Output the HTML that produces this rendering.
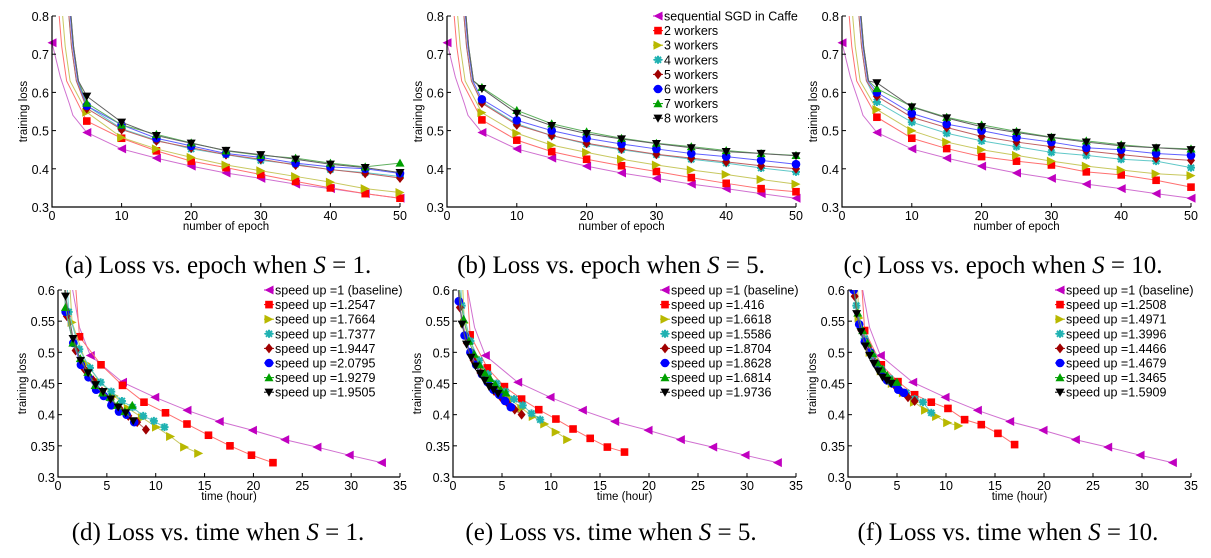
<!DOCTYPE html>
<html><head><meta charset="utf-8"><style>
body{margin:0;background:#fff;}
svg{display:block;font-family:"Liberation Sans",sans-serif;}
.cap{font-family:"Liberation Serif",serif;font-size:25px;fill:#000;}
</style></head><body>
<svg id="fig" width="1211" height="558" viewBox="0 0 1211 558"></svg>
<script>
// ---- data ----
const epochs=[5,10,15,20,25,30,35,40,45,50];
const baseLoss=[0.495,0.452,0.428,0.407,0.389,0.375,0.36,0.348,0.335,0.323];
const baseTime=[3.3,6.6,9.9,13.2,16.5,19.9,23.2,26.5,29.8,33.1];
const lossA=[
[0.525,0.48,0.447,0.42,0.403,0.385,0.367,0.35,0.335,0.323],
[0.548,0.482,0.452,0.43,0.41,0.395,0.38,0.365,0.348,0.338],
[0.565,0.505,0.475,0.452,0.437,0.422,0.412,0.398,0.39,0.38],
[0.558,0.503,0.473,0.455,0.437,0.425,0.41,0.398,0.388,0.376],
[0.565,0.515,0.48,0.46,0.44,0.43,0.415,0.405,0.4,0.388],
[0.572,0.515,0.49,0.468,0.447,0.435,0.428,0.415,0.405,0.415],
[0.59,0.522,0.487,0.467,0.448,0.437,0.425,0.412,0.403,0.39]];
const lossB=[
[0.528,0.475,0.445,0.425,0.408,0.393,0.377,0.362,0.348,0.34],
[0.547,0.493,0.462,0.443,0.425,0.41,0.397,0.385,0.372,0.36],
[0.575,0.518,0.487,0.465,0.45,0.437,0.425,0.415,0.402,0.392],
[0.572,0.515,0.487,0.467,0.452,0.438,0.428,0.418,0.408,0.4],
[0.582,0.527,0.5,0.48,0.465,0.452,0.44,0.432,0.422,0.412],
[0.613,0.553,0.518,0.497,0.48,0.467,0.458,0.448,0.44,0.435],
[0.61,0.545,0.513,0.492,0.478,0.466,0.455,0.445,0.44,0.434]];
const lossC=[
[0.535,0.48,0.453,0.432,0.42,0.41,0.392,0.384,0.37,0.352],
[0.555,0.5,0.47,0.45,0.435,0.42,0.407,0.397,0.387,0.382],
[0.575,0.522,0.493,0.473,0.458,0.443,0.435,0.425,0.42,0.403],
[0.59,0.535,0.508,0.485,0.47,0.458,0.447,0.437,0.428,0.422],
[0.6,0.545,0.517,0.5,0.482,0.47,0.455,0.45,0.44,0.435],
[0.61,0.563,0.535,0.515,0.498,0.483,0.473,0.463,0.455,0.452],
[0.625,0.562,0.533,0.51,0.495,0.482,0.47,0.46,0.455,0.45]];
const timeD=[
[2.2,4.4,6.6,8.8,11,13.2,15.4,17.6,19.8,22],
[1.44,2.88,4.32,5.76,7.2,8.64,10.08,11.52,12.96,14.4],
[1.09,2.18,3.27,4.36,5.45,6.54,7.63,8.72,9.81,10.9],
[0.9,1.8,2.7,3.6,4.5,5.4,6.3,7.2,8.1,9],
[0.78,1.56,2.34,3.12,3.9,4.68,5.46,6.24,7.02,7.8],
[0.76,1.52,2.28,3.04,3.8,4.56,5.32,6.08,6.84,7.6],
[0.77,1.54,2.31,3.08,3.85,4.62,5.39,6.16,6.93,7.7]];
const timeE=[
[1.75,3.5,5.25,7,8.75,10.5,12.25,14,15.75,17.5],
[1.17,2.34,3.51,4.68,5.85,7.02,8.19,9.36,10.53,11.7],
[0.89,1.78,2.67,3.56,4.45,5.34,6.23,7.12,8.01,8.9],
[0.7,1.4,2.1,2.8,3.5,4.2,4.9,5.6,6.3,7],
[0.59,1.18,1.77,2.36,2.95,3.54,4.13,4.72,5.31,5.9],
[0.54,1.08,1.62,2.16,2.7,3.24,3.78,4.32,4.86,5.4],
[0.46,0.92,1.38,1.84,2.3,2.76,3.22,3.68,4.14,4.6]];
const timeF=[
[1.7,3.4,5.1,6.8,8.5,10.2,11.9,13.6,15.3,17],
[1.13,2.26,3.39,4.52,5.65,6.78,7.91,9.04,10.17,11.3],
[0.85,1.7,2.55,3.4,4.25,5.1,5.95,6.8,7.65,8.5],
[0.68,1.36,2.04,2.72,3.4,4.08,4.76,5.44,6.12,6.8],
[0.57,1.14,1.71,2.28,2.85,3.42,3.99,4.56,5.13,5.7],
[0.5,1,1.5,2,2.5,3,3.5,4,4.5,5],
[0.44,0.88,1.32,1.76,2.2,2.64,3.08,3.52,3.96,4.4]];
const startEpoch=[0.8,1.3,2.2,2.2,2.4,2.5,2.5];
const speedD=["1.2547","1.7664","1.7377","1.9447","2.0795","1.9279","1.9505"];
const speedE=["1.416","1.6618","1.5586","1.8704","1.8628","1.6814","1.9736"];
const speedF=["1.2508","1.4971","1.3996","1.4466","1.4679","1.3465","1.5909"];
const workerLabels=["sequential SGD in Caffe","2 workers","3 workers","4 workers","5 workers","6 workers","7 workers","8 workers"];
const epochTicks=[0,10,20,30,40,50];
const epochYTicks=[0.3,0.4,0.5,0.6,0.7,0.8];
const timeTicks=[0,5,10,15,20,25,30,35];
const timeYTicks=[0.3,0.35,0.4,0.45,0.5,0.55,0.6];

const markerCol=["#c000c0","#ff0000","#b8b800","#20b2b2","#a00000","#0000ff","#00a000","#000000"];
const lineCol=["#d070d0","#ff7070","#c8c860","#60c8c8","#c06060","#6060ff","#60b060","#606060"];
const shapes=["left","square","right","star","diamond","circle","up","down"];
const NS="http://www.w3.org/2000/svg";
const svg=document.getElementById('fig');
function el(tag,attrs,parent){const e=document.createElementNS(NS,tag);for(const k in attrs)e.setAttribute(k,attrs[k]);(parent||svg).appendChild(e);return e;}
let clipN=0;
function marker(g,shape,x,y,c){
  let m;const s=4.5;
  if(shape==="square")m=el('rect',{x:x-3.8,y:y-3.8,width:7.6,height:7.6,fill:c},g);
  else if(shape==="circle")m=el('circle',{cx:x,cy:y,r:4.3,fill:c},g);
  else if(shape==="diamond")m=el('polygon',{points:`${x},${y-5} ${x+4},${y} ${x},${y+5} ${x-4},${y}`,fill:c},g);
  else if(shape==="left")m=el('polygon',{points:`${x-s},${y} ${x+s},${y-s} ${x+s},${y+s}`,fill:c},g);
  else if(shape==="right")m=el('polygon',{points:`${x+s},${y} ${x-s},${y-s} ${x-s},${y+s}`,fill:c},g);
  else if(shape==="up")m=el('polygon',{points:`${x},${y-s} ${x+s},${y+s*0.8} ${x-s},${y+s*0.8}`,fill:c},g);
  else if(shape==="down")m=el('polygon',{points:`${x},${y+s} ${x+s},${y-s*0.8} ${x-s},${y-s*0.8}`,fill:c},g);
  else {m=el('path',{d:`M${x-4},${y}H${x+4}M${x},${y-4}V${y+4}M${x-3},${y-3}L${x+3},${y+3}M${x-3},${y+3}L${x+3},${y-3}`,stroke:c,'stroke-width':2},g);}
  return m;
}
function plot(cfg){
  const {x0,x1,y0,y1,xmin,xmax,ymin,ymax,name}=cfg;
  const X=v=>x0+(v-xmin)/(xmax-xmin)*(x1-x0);
  const Y=v=>y1-(v-ymin)/(ymax-ymin)*(y1-y0);
  const g=el('g',{});
  
  
  const cid='c'+(clipN++);
  const cp=el('clipPath',{id:cid},g);el('rect',{x:x0-8,y:y0,width:x1-x0+16,height:y1-y0},cp);
  const lg=el('g',{'clip-path':`url(#${cid})`},g);
  cfg.series.forEach((s,i)=>{
    const sg=el('g',{},lg);
    
    
    const pts=s.line.map(p=>X(p[0])+','+Y(p[1])).join(' ');
    el('polyline',{points:pts,fill:'none',stroke:lineCol[i],'stroke-width':1},sg);
    s.pts.forEach(p=>{const m=marker(sg,shapes[i],X(p[0]),Y(p[1]),markerCol[i]);
      
      });
  });
  const ax=el('path',{d:`M${x0},${y0}V${y1}H${x1}`,stroke:'#000','stroke-width':1.2,fill:'none'},g);
  
  
  cfg.xticks.forEach(t=>{const x=X(t);
    el('line',{x1:x,x2:x,y1:y1,y2:y1-4,stroke:'#000'},g);
    const tx=el('text',{x:x,y:y1+13,'font-size':12.5,'text-anchor':'middle'},g);tx.textContent=t;
    
    });
  cfg.yticks.forEach(t=>{const y=Y(t);
    el('line',{x1:x0,x2:x0+4,y1:y,y2:y,stroke:'#000'},g);
    const tx=el('text',{x:x0-3,y:y+5,'font-size':12.5,'text-anchor':'end'},g);tx.textContent=String(t);
    
    });
  const xl=el('text',{x:(x0+x1)/2,y:y1+23,'font-size':11.5,'text-anchor':'middle'},g);xl.textContent=cfg.xlabel;
  
  
  const yx=x0-(cfg.time?32:25),yy=(y0+y1)/2;
  const yl=el('text',{x:yx,y:yy,'font-size':11.5,'text-anchor':'middle',transform:`rotate(-90 ${yx} ${yy})`},g);yl.textContent='training loss';
  
  
  if(cfg.legend){
    const lgd=el('g',{},g);
    
    
    cfg.legend.labels.forEach((lab,i)=>{const y=cfg.legend.y+i*14.6;const lx=cfg.legend.x;
      el('line',{x1:lx,x2:lx+10,y1:y,y2:y,stroke:markerCol[i]},lgd);
      marker(lgd,shapes[i],lx+5,y,markerCol[i]);
      const t=el('text',{x:lx+11,y:y+4.5,'font-size':12.5},lgd);t.textContent=lab;
      
      });
  }
  const cap=el('text',{x:cfg.capx,y:cfg.capy,class:'cap','text-anchor':'middle'});
  const t1=el('tspan',{},cap);t1.textContent=cfg.cap[0];
  const t2=el('tspan',{'font-style':'italic'},cap);t2.textContent='S';
  const t3=el('tspan',{},cap);t3.textContent=' = '+cfg.cap[1]+'.';
  
  
}
function epochSeries(loss){
  const s=[{line:[[0,0.73],[1.2,0.64],[2.5,0.57],[3,0.54]].concat(epochs.map((e,k)=>[e,baseLoss[k]])),pts:[[0,0.73]].concat(epochs.map((e,k)=>[e,baseLoss[k]]))}];
  loss.forEach((L,i)=>{const se=startEpoch[i];
    s.push({line:[[se,0.85],[se+0.6,0.72],[se+1.3,0.63]].concat(epochs.map((e,k)=>[e,L[k]])),pts:epochs.map((e,k)=>[e,L[k]])});});
  return s;
}
function timeSeries(loss,times){
  const s=[{line:[[0,0.73],[1.5,0.6],[2.2,0.54]].concat(baseTime.map((t,k)=>[t,baseLoss[k]])),pts:baseTime.map((t,k)=>[t,baseLoss[k]])}];
  loss.forEach((L,i)=>{const T=times[i];
    s.push({line:[[T[0]*0.45,0.8],[T[0]*0.7,0.66]].concat(T.map((t,k)=>[t,L[k]])),pts:T.map((t,k)=>[t,L[k]])});});
  return s;
}
const topCfg={y0:16,y1:207,xmin:0,xmax:50,ymin:0.3,ymax:0.8,xticks:epochTicks,yticks:epochYTicks,xlabel:'number of epoch',capy:273};
const botCfg={y0:290,y1:477,xmin:0,xmax:35,ymin:0.3,ymax:0.6,xticks:timeTicks,yticks:timeYTicks,xlabel:'time (hour)',capy:540,time:true};
plot(Object.assign({},topCfg,{name:'plot-a',x0:52,x1:400,series:epochSeries(lossA),capx:218,cap:['(a) Loss vs. epoch when ','1']}));
plot(Object.assign({},topCfg,{name:'plot-b',x0:447,x1:796,series:epochSeries(lossB),capx:611,cap:['(b) Loss vs. epoch when ','5'],legend:{x:653,y:16,labels:workerLabels}}));
plot(Object.assign({},topCfg,{name:'plot-c',x0:842,x1:1191,series:epochSeries(lossC),capx:1003,cap:['(c) Loss vs. epoch when ','10']}));
plot(Object.assign({},botCfg,{name:'plot-d',x0:58,x1:400,series:timeSeries(lossA,timeD),capx:218,cap:['(d) Loss vs. time when ','1'],legend:{x:264,y:290,labels:['speed up =1 (baseline)'].concat(speedD.map(v=>'speed up ='+v))}}));
plot(Object.assign({},botCfg,{name:'plot-e',x0:453,x1:796,series:timeSeries(lossB,timeE),capx:611,cap:['(e) Loss vs. time when ','5'],legend:{x:660,y:290,labels:['speed up =1 (baseline)'].concat(speedE.map(v=>'speed up ='+v))}}));
plot(Object.assign({},botCfg,{name:'plot-f',x0:848,x1:1191,series:timeSeries(lossC,timeF),capx:1008,cap:['(f) Loss vs. time when ','10'],legend:{x:1055,y:290,labels:['speed up =1 (baseline)'].concat(speedF.map(v=>'speed up ='+v))}}));
</script>
</body></html>
